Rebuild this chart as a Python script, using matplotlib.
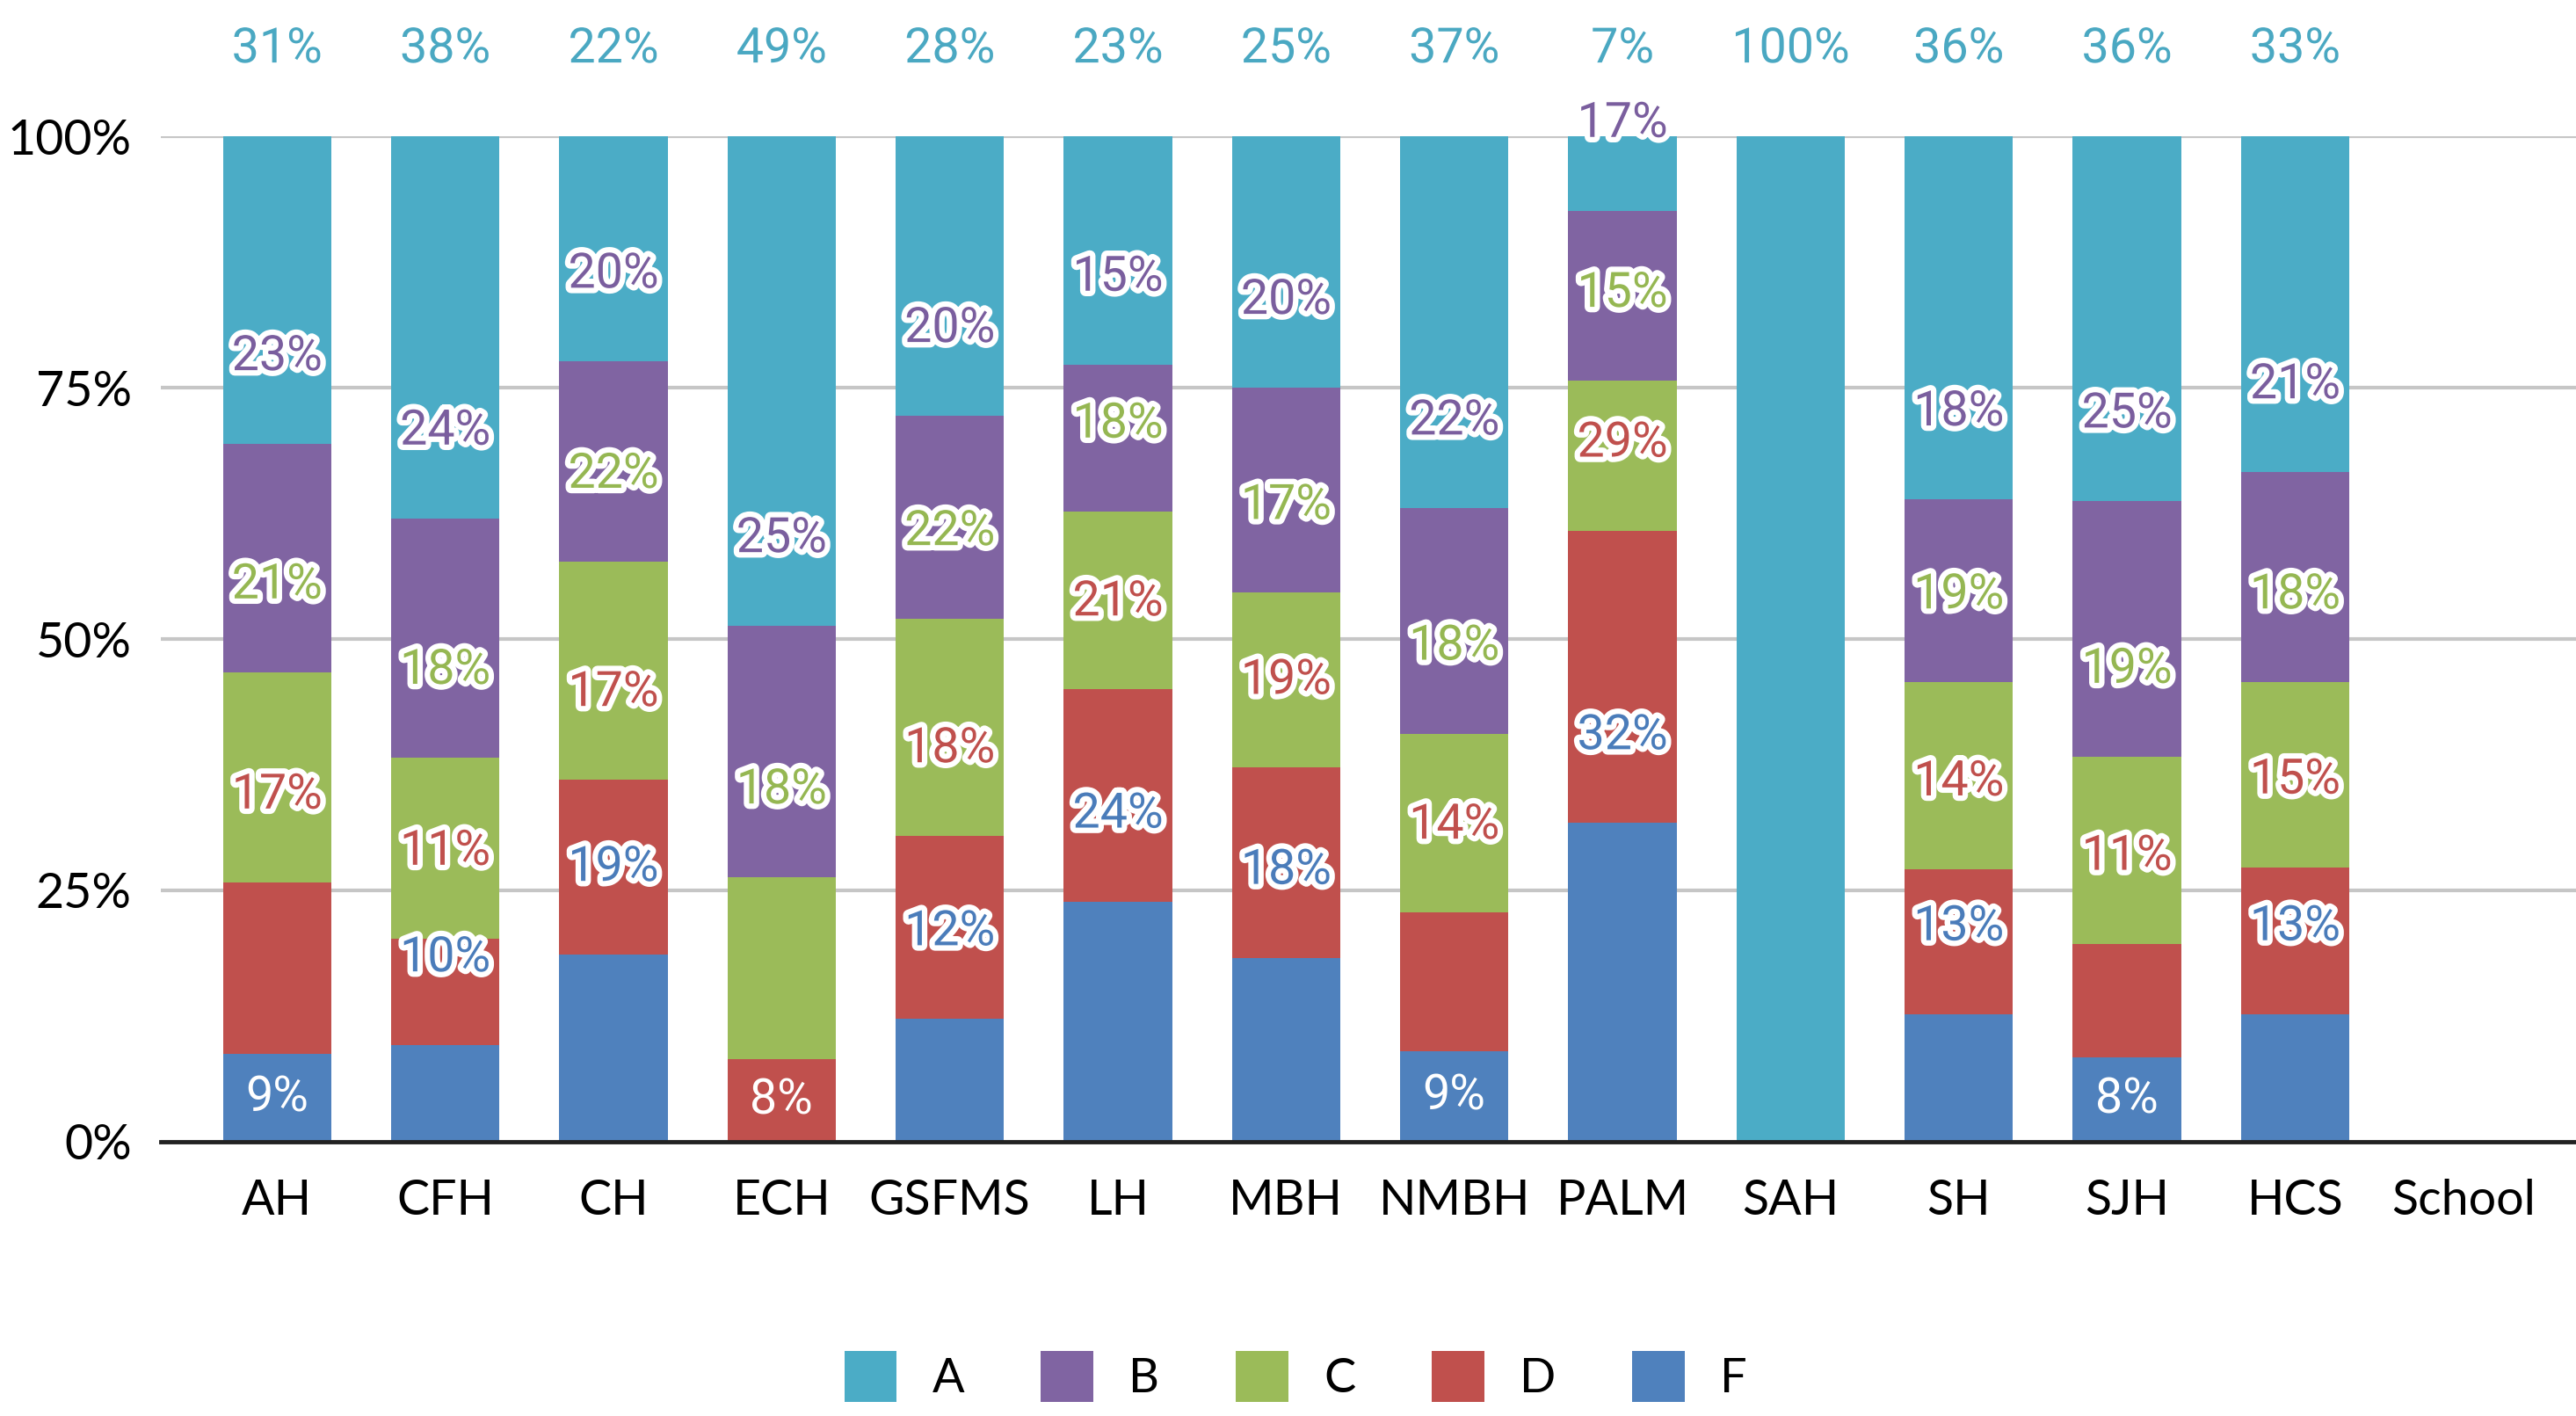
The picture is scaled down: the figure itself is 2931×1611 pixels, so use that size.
import numpy as np
import matplotlib.pyplot as plt
import matplotlib.patheffects as pe

schools = ['AH', 'CFH', 'CH', 'ECH', 'GSFMS', 'LH', 'MBH', 'NMBH', 'PALM', 'SAH', 'SH', 'SJH', 'HCS', 'School']
grades = ['A', 'B', 'C', 'D', 'F']

# percentage of students per grade, stacked from the bottom: F, D, C, B, A
pct_F = [8.7, 9.6, 18.6, 0.0, 12.2, 23.9, 18.3, 9.0, 31.7, 0.0, 12.7, 8.4, 12.7, 0.0]
pct_D = [17.1, 10.6, 17.4, 8.2, 18.2, 21.1, 18.9, 13.8, 29.1, 0.0, 14.4, 11.3, 14.6, 0.0]
pct_C = [20.9, 18.0, 21.7, 18.1, 21.6, 17.7, 17.4, 17.8, 14.9, 0.0, 18.6, 18.6, 18.4, 0.0]
pct_B = [22.7, 23.8, 19.9, 25.0, 20.2, 14.6, 20.4, 22.4, 16.9, 0.0, 18.2, 25.4, 20.9, 0.0]
pct_A = [30.6, 38.0, 22.4, 48.7, 27.8, 22.7, 25.0, 37.0, 7.4, 100.0, 36.1, 36.3, 33.4, 0.0]

colors = {'A': '#4bacc6', 'B': '#8064a2', 'C': '#9bbb59', 'D': '#c0504d', 'F': '#4f81bd'}
text_colors = {'A': '#4aa8c2', 'B': '#7a5e9e', 'C': '#95b752', 'D': '#c0504d', 'F': '#4a7cba'}

stack = [('F', pct_F), ('D', pct_D), ('C', pct_C), ('B', pct_B), ('A', pct_A)]

fig = plt.figure(figsize=(29.31, 16.11), dpi=100)
ax = fig.add_axes([0.0625, 0.1937, 0.9375, 0.71])

x = np.arange(len(schools))
bottom = np.zeros(len(schools))
handles = {}
for g, vals in stack:
    vals = np.array(vals)
    bars = ax.bar(x, vals, 0.645, bottom=bottom, color=colors[g], zorder=2, linewidth=0)
    handles[g] = bars
    for i, v in enumerate(vals):
        if v <= 0:
            continue
        lab = '%d%%' % int(np.floor(v + 0.5))
        if bottom[i] == 0 and v < 9.5:
            # small bottom segment: white label inside
            ax.text(x[i], bottom[i] + v / 2, lab, ha='center', va='center',
                    fontsize=40, color='white', family='Roboto', zorder=4)
        else:
            ax.text(x[i], bottom[i] + v + 8.7, lab, ha='center', va='center',
                    fontsize=40, color=text_colors[g], family='Roboto',
                    zorder=4, clip_on=False,
                    path_effects=[pe.withStroke(linewidth=9, foreground='white')])
    bottom = bottom + vals

ax.set_xlim(-0.69, 13.67)
ax.set_ylim(0, 100)
ax.set_yticks([0, 25, 50, 75, 100])
ax.set_yticklabels(['0%', '25%', '50%', '75%', '100%'])
ax.set_xticks(x)
ax.set_xticklabels(schools)
ax.tick_params(axis='both', length=0, labelsize=40)
ax.tick_params(axis='y', pad=24)
ax.tick_params(axis='x', pad=30)
for lab in ax.get_xticklabels() + ax.get_yticklabels():
    lab.set_family('Lato')
ax.grid(axis='y', color='#c6c6c6', linewidth=3, zorder=0)
for s in ['top', 'right', 'left']:
    ax.spines[s].set_visible(False)
ax.spines['bottom'].set_linewidth(3.5)
ax.spines['bottom'].set_color('#222222')
ax.spines['bottom'].set_zorder(3)

leg = fig.legend([handles[g] for g in grades], grades, loc='center',
                 bbox_to_anchor=(0.503, 0.028), ncol=5, frameon=False,
                 prop={'family': 'Lato', 'size': 39}, handlelength=1.1,
                 handleheight=1.25, handletextpad=0.75, columnspacing=1.6)

plt.savefig('out.png', dpi=100)
